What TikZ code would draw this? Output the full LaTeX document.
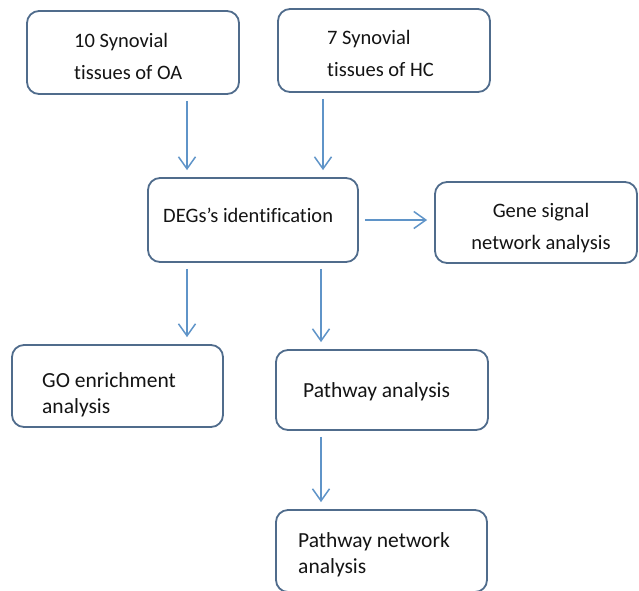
\documentclass[tikz,border=0pt]{standalone}
\usepackage{fontspec}
\setmainfont{Carlito}[Ligatures=NoCommon]
\usetikzlibrary{arrows.meta}
\definecolor{boxline}{RGB}{80,108,140}
\definecolor{arrowline}{RGB}{95,148,200}
\definecolor{boxtext}{RGB}{20,20,20}
\tikzstyle{arrow} = [line width=1.5pt,draw=arrowline,-{Straight Barb[length=12pt,width=17pt]},shorten <=6pt,shorten >=7pt]
\tikzset{box/.style={rectangle,rounded corners=12pt,draw=boxline,line width=1.8pt,fill=white,inner sep=0pt},
toptext/.style={inner sep=0pt,text=boxtext,font=\fontsize{20.5}{32}\selectfont,align=left,anchor=north west},
lowtext/.style={inner sep=0pt,text=boxtext,font=\fontsize{21.5}{26}\selectfont,align=left,anchor=north west}}

\begin{document}
\begin{tikzpicture}[x=1pt,y=-1pt]
    \useasboundingbox (0,0) rectangle (639,590);

    \node [box, minimum width=212pt, minimum height=83pt] (oa) at (133,52.5) {};
    \node [box, minimum width=212pt, minimum height=83pt] (hc) at (384,50.5) {};
    \node [box, minimum width=210pt, minimum height=84pt] (deg) at (253,220) {};
    \node [box, minimum width=202pt, minimum height=81pt] (gene) at (536,222.5) {};
    \node [box, minimum width=211pt, minimum height=82pt] (go) at (117.5,386) {};
    \node [box, minimum width=212pt, minimum height=80pt] (pwa) at (382,390) {};
    \node [box, minimum width=211pt, minimum height=82pt] (pwn) at (381.5,551) {};

    % texts in the boxes
    \node [toptext] (oatext) at (74,33.5) {10 Synovial\\tissues of OA};
    \node [toptext] (hctext) at (327,30.5) {7 Synovial\\tissues of HC};
    \node [toptext] (degtext) at (163,207.5) {DEGs’s identification};
    \node [toptext, anchor=north, align=center] (genetext) at (541,203.5) {Gene signal\\network analysis};
    \node [lowtext] (gotext) at (42,372) {GO enrichment\\analysis};
    \node [lowtext] (pwatext) at (303,382) {Pathway analysis};
    \node [lowtext] (pwntext) at (298,532) {Pathway network\\analysis};

    \draw [arrow] ([xshift=54pt]oa.south) -- ([xshift=54pt]oa.south |- deg.north);
    \draw [arrow] ([xshift=-61pt]hc.south) -- ([xshift=-61pt]hc.south |- deg.north);
    \draw [arrow] (deg.east) -- (deg.east -| gene.west);
    \draw [arrow] ([xshift=-66pt]deg.south) -- ([xshift=-66pt]deg.south |- go.north);
    \draw [arrow] ([xshift=68pt]deg.south) -- ([xshift=68pt]deg.south |- pwa.north);
    \draw [arrow] ([xshift=-61pt]pwa.south) -- ([xshift=-61pt]pwa.south |- pwn.north);
\end{tikzpicture}
\end{document}
